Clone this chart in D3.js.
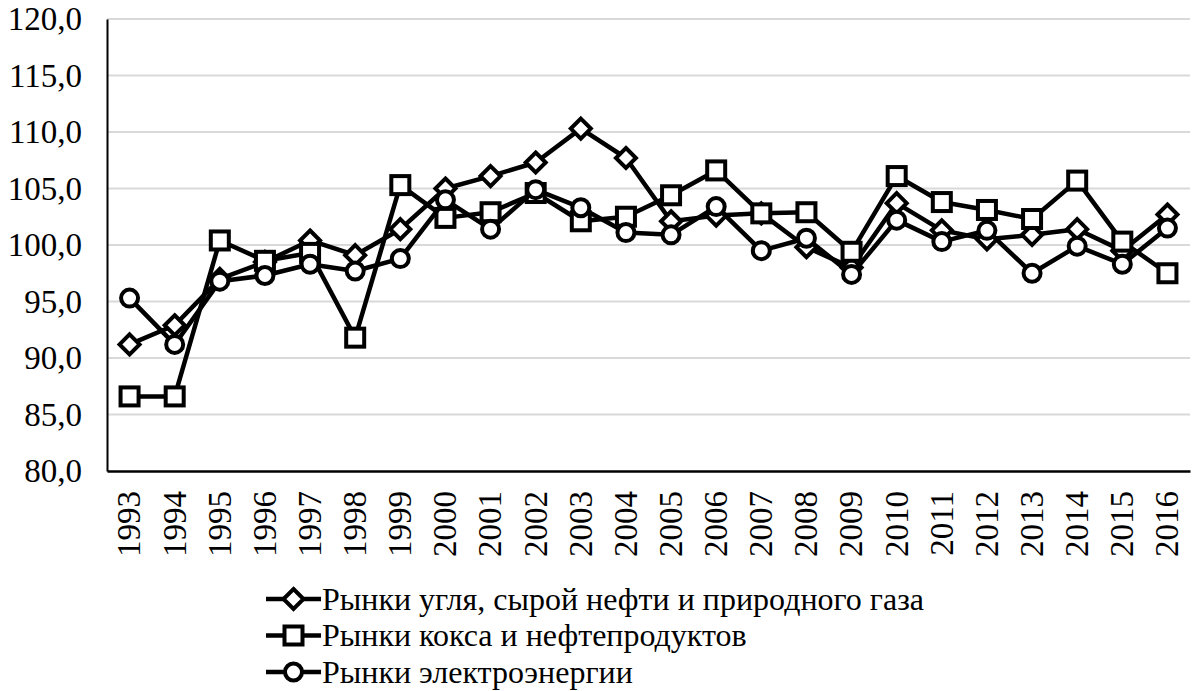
<!DOCTYPE html>
<html><head><meta charset="utf-8">
<script src="https://cdn.jsdelivr.net/npm/d3@7"></script>
<style>
html,body{margin:0;padding:0;background:#fff;}
</style></head>
<body><svg id="c" width="1198" height="691"></svg>
<script>
const years = ["1993","1994","1995","1996","1997","1998","1999","2000","2001","2002","2003","2004","2005","2006","2007","2008","2009","2010","2011","2012","2013","2014","2015","2016"];
const coalOilGas = [91.2,92.9,97.0,98.5,100.4,99.1,101.4,105.0,106.1,107.3,110.3,107.7,102.1,102.6,102.8,99.8,98.0,103.7,101.3,100.5,100.9,101.4,99.5,102.7];
const cokeOil = [86.6,86.6,100.4,98.6,99.3,91.8,105.3,102.4,102.9,104.6,102.1,102.5,104.4,106.6,102.8,102.9,99.4,106.1,103.8,103.1,102.3,105.7,100.3,97.5];
const electricity = [95.3,91.2,96.8,97.3,98.3,97.7,98.8,104.0,101.4,104.9,103.3,101.1,100.9,103.4,99.5,100.6,97.4,102.2,100.3,101.3,97.5,99.9,98.3,101.5];
const yTicks = [80,85,90,95,100,105,110,115,120];
const seriesNames = ["Рынки угля, сырой нефти и природного газа","Рынки кокса и нефтепродуктов","Рынки электроэнергии"];
const seriesMarkers = ["diamond","square","circle"];

const FONT = "Liberation Serif, Times New Roman, serif";
const svg = d3.select("#c");
const L = 107, R = 1190, T = 19, B = 471;
const x = d3.scaleBand().domain(years).range([L, R]);
const y = d3.scaleLinear().domain([80,120]).range([B, T]);
const fmt = v => v.toFixed(1).replace(".", ",");

// gridlines
svg.append("g").selectAll("line").data(yTicks.filter(v => v > 80)).join("line")
  .attr("x1", L).attr("x2", R).attr("y1", d => y(d)).attr("y2", d => y(d))
  .attr("stroke", "#d9d9d9").attr("stroke-width", 2);

// y axis
const ya = svg.append("g").attr("transform", `translate(${L},0)`)
  .call(d3.axisLeft(y).tickValues(yTicks).tickFormat(fmt).tickSize(0).tickPadding(25));
ya.attr("font-family", FONT).attr("font-size", 33);
ya.select(".domain").attr("stroke", "#000").attr("stroke-width", 2);
ya.selectAll("text").attr("fill", "#000");

// x axis
const xa = svg.append("g").attr("transform", `translate(0,${B})`)
  .call(d3.axisBottom(x).tickSize(0).tickPadding(0));
xa.attr("font-family", FONT).attr("font-size", 33);
xa.select(".domain").attr("stroke", "#000").attr("stroke-width", 2.5);
xa.selectAll("text").attr("fill", "#000")
  .attr("transform", "rotate(-90)").attr("text-anchor", "end")
  .attr("x", -20).attr("y", 0).attr("dy", "0.33em").attr("dx", 0);

function marker(sel, type) {
  if (type === "diamond") {
    sel.append("path").attr("d", "M0,-10L10,0L0,10L-10,0Z");
  } else if (type === "square") {
    sel.append("rect").attr("x", -9).attr("y", -9).attr("width", 18).attr("height", 18);
  } else {
    sel.append("circle").attr("r", 8.5);
  }
  sel.selectAll("path,rect,circle").attr("fill", "#fff").attr("stroke", "#000").attr("stroke-width", 4);
}

const allSeries = [coalOilGas, cokeOil, electricity];
const line = d3.line().x((d, i) => x(years[i]) + x.bandwidth() / 2).y(d => y(d));
allSeries.forEach((vals, si) => {
  const g = svg.append("g");
  g.append("path").datum(vals).attr("d", line).attr("fill", "none")
    .attr("stroke", "#000").attr("stroke-width", 4.5).attr("stroke-linejoin", "round");
  vals.forEach((v, i) => {
    const m = g.append("g").attr("transform", `translate(${x(years[i]) + x.bandwidth() / 2},${y(v)})`);
    marker(m, seriesMarkers[si]);
  });
});

// legend
const lg = svg.append("g");
seriesNames.forEach((name, i) => {
  const cy = 599 + i * 36.5;
  const g = lg.append("g").attr("transform", `translate(0,${cy})`);
  g.append("line").attr("x1", 266).attr("x2", 321).attr("y1", 0).attr("y2", 0)
    .attr("stroke", "#000").attr("stroke-width", 4.5);
  const m = g.append("g").attr("transform", "translate(293.5,0)");
  marker(m, seriesMarkers[i]);
  g.append("text").attr("x", 322).attr("y", 0).attr("dy", "0.33em")
    .attr("font-family", FONT).attr("font-size", 32)
    .attr("fill", "#000").text(name);
});
</script></body></html>
